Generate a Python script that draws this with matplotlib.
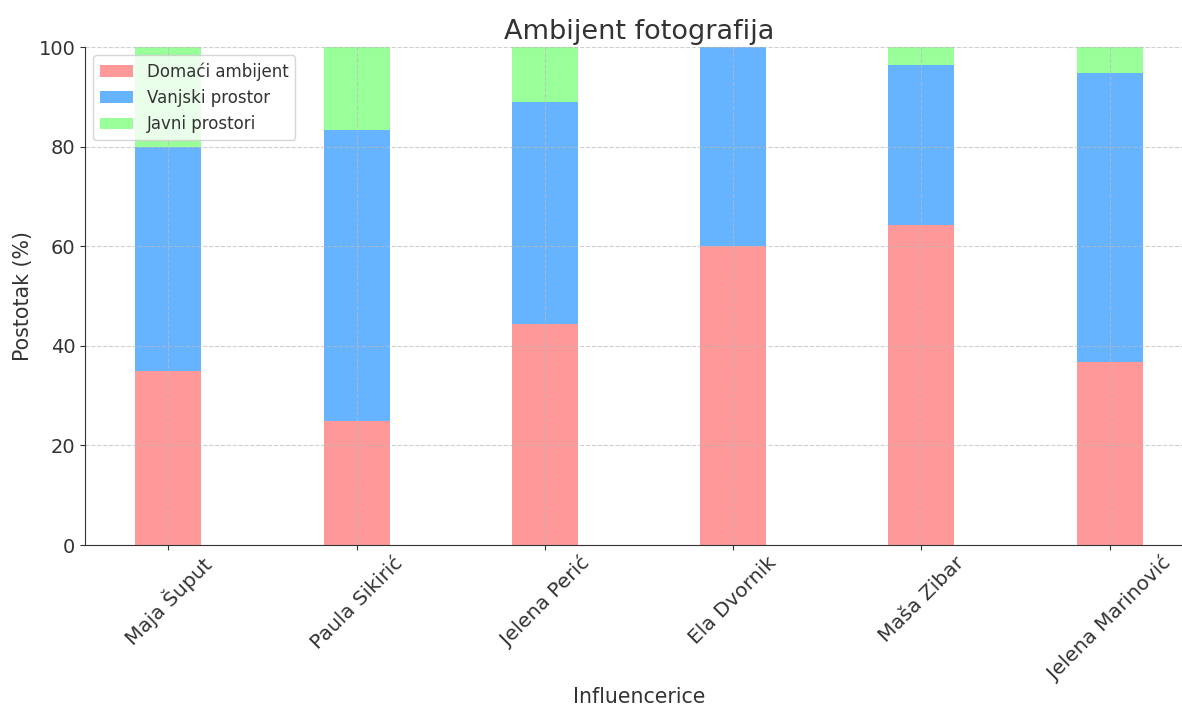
import numpy as np
import matplotlib.pyplot as plt

influencerice = ['Maja Šuput', 'Paula Sikirić', 'Jelena Perić', 'Ela Dvornik',
                 'Maša Zibar', 'Jelena Marinović']
domaci = [35.0, 25.0, 44.4, 60.0, 64.3, 36.8]
vanjski = [45.0, 58.3, 44.5, 40.0, 32.1, 57.9]
javni = [20.0, 16.7, 11.1, 0.0, 3.6, 5.3]

txt = '#333333'
plt.rcParams['text.color'] = txt
plt.rcParams['axes.labelcolor'] = txt
plt.rcParams['xtick.color'] = txt
plt.rcParams['ytick.color'] = txt

fig = plt.figure(figsize=(11.82, 7.07), dpi=100)
ax = fig.add_axes([0.0719, 0.2291, 0.9374, 0.7044])

x = np.arange(len(influencerice))
w = 0.35
b1 = np.array(domaci)
b2 = b1 + np.array(vanjski)
ax.bar(x, domaci, w, color='#ff9999', label='Domaći ambijent')
ax.bar(x, vanjski, w, bottom=b1, color='#66b3ff', label='Vanjski prostor')
ax.bar(x, javni, w, bottom=b2, color='#99ff99', label='Javni prostori')

ax.set_ylim(0, 100)
ax.set_xticks(x)
ax.set_xticklabels(influencerice, rotation=45, fontsize=14.5)
ax.tick_params(axis='y', labelsize=14)
ax.tick_params(axis='x', pad=2.5)
ax.set_xlabel('Influencerice', fontsize=14.8, labelpad=2)
ax.set_ylabel('Postotak (%)', fontsize=14.8)
ax.set_title('Ambijent fotografija', fontsize=19.5, color=txt)
ax.grid(True, linestyle='--', color='#bbbbbb', alpha=0.7, linewidth=0.8)
ax.spines['top'].set_visible(False)
ax.spines['right'].set_visible(False)
ax.spines['left'].set_color('#333333')
ax.spines['bottom'].set_color('#333333')
ax.legend(loc='upper left', fontsize=12)

fig.savefig('out.png', dpi=100)
